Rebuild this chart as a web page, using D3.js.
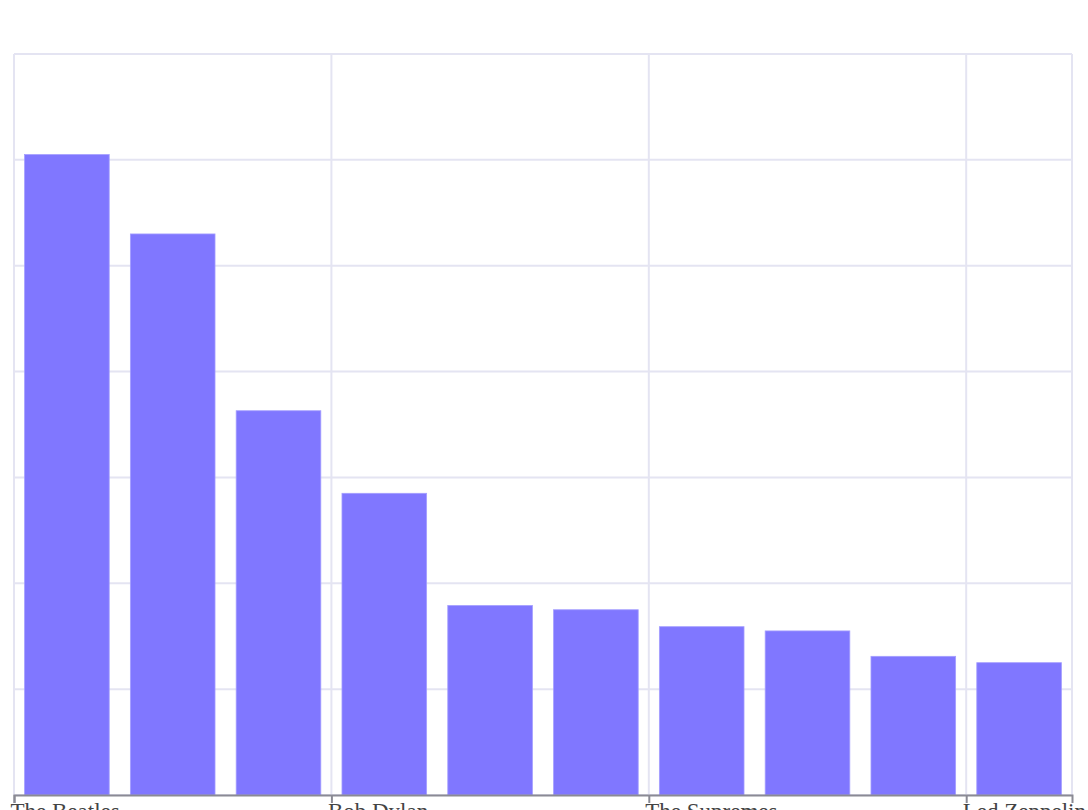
<!DOCTYPE html>
<html>
<head>
<meta charset="utf-8">
<script src="https://cdn.jsdelivr.net/npm/d3@7"></script>
<style>
  html, body { margin: 0; padding: 0; background: #ffffff; overflow: hidden; }
  svg { display: block; }
</style>
</head>
<body>
<svg id="chart" width="1088" height="810"></svg>
<script>
// Data
const categories = ["The Beatles", "Elvis Presley", "The Rolling Stones", "Bob Dylan", "Michael Jackson",
                    "Madonna", "The Supremes", "Queen", "Pink Floyd", "Led Zeppelin"];
const values = [60.5, 53.0, 36.3, 28.5, 17.9, 17.5, 15.9, 15.5, 13.1, 12.5];
const yTicks = [0, 10, 20, 30, 40, 50, 60, 70];
const xTickIndexes = [0, 3, 6, 9];

const svg = d3.select("#chart");
const margin = { top: 54, right: 16, bottom: 15, left: 14 };
const width = 1088 - margin.left - margin.right;
const height = 810 - margin.top - margin.bottom;

const g = svg.append("g").attr("transform", `translate(${margin.left},${margin.top})`);

const x = d3.scaleBand().domain(categories).range([0, width]).paddingInner(0.2).paddingOuter(0.1);
const xIdx = d3.scaleLinear().domain([0, categories.length]).range([0, width]);
const y = d3.scaleLinear().domain([0, 70]).range([height, 0]);

const gridColor = "#e4e4f2";

// horizontal grid
g.append("g").selectAll("line").data(yTicks).join("line")
  .attr("x1", 0).attr("x2", width)
  .attr("y1", d => y(d)).attr("y2", d => y(d))
  .attr("stroke", gridColor).attr("stroke-width", 2);

// vertical grid
g.append("g").selectAll("line").data(xTickIndexes.concat([categories.length])).join("line")
  .attr("x1", d => xIdx(d)).attr("x2", d => xIdx(d))
  .attr("y1", 0).attr("y2", height)
  .attr("stroke", gridColor).attr("stroke-width", 2);

// bars
g.append("g").selectAll("rect").data(values).join("rect")
  .attr("x", (d, i) => x(categories[i]))
  .attr("width", x.bandwidth())
  .attr("y", d => y(d))
  .attr("height", d => height - y(d))
  .attr("fill", "#8077ff")
  .attr("stroke", "#a49eff")
  .attr("stroke-width", 0.8);

// x axis
const xAxis = d3.axisBottom(xIdx)
  .tickValues(xTickIndexes)
  .tickFormat(i => categories[i])
  .tickSize(8)
  .tickSizeOuter(8)
  .tickPadding(3);

const ax = g.append("g").attr("transform", `translate(0,${height})`).call(xAxis);
ax.select(".domain").attr("stroke", "#8a8a94").attr("stroke-width", 2);
ax.selectAll(".tick line").attr("stroke", "#8a8a94").attr("stroke-width", 2);
ax.selectAll(".tick text")
  .attr("text-anchor", "start")
  .attr("x", -4)
  .attr("y", 24)
  .attr("dy", "0")
  .attr("fill", "#444444")
  .style("font-family", "'Liberation Serif', 'DejaVu Serif', serif")
  .style("font-size", "23px");
</script>
</body>
</html>
